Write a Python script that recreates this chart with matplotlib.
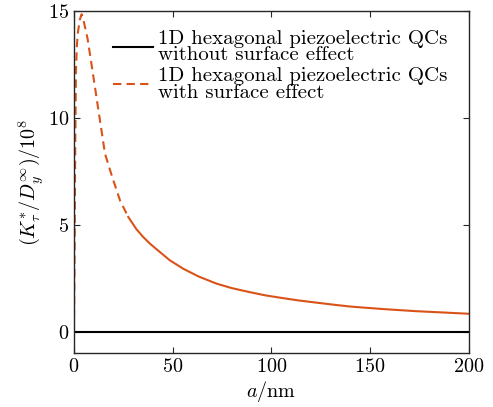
# coding = utf-8
import matplotlib
matplotlib.use('Agg')
from matplotlib import pyplot as plt

# values (K*/D / 1e8 vs a in nm)
a_surf = [0, 0.3, 0.6, 1.0, 1.5, 2.0, 3.0, 3.9, 5.0, 6.9, 9.4, 12.0, 15.7, 19.1,
          23.3, 27.5, 31.7, 35.0, 38.5, 43.5, 48.6, 55.3, 63.0, 72.2, 80.0, 89.1, 97.0,
          106.0, 114.0, 122.9, 131.0, 139.7, 148.0, 156.6, 165.0, 173.5, 187.0, 200.0]
k_surf = [0, 3.5, 8.0, 12.2, 13.4, 14.0, 14.6, 14.85, 14.5, 13.7, 12.2, 10.6, 8.33, 7.31,
          6.14, 5.36, 4.78, 4.43, 4.11, 3.72, 3.33, 2.94, 2.58, 2.24, 2.03, 1.84, 1.69,
          1.56, 1.45, 1.35, 1.26, 1.17, 1.11, 1.05, 1.00, 0.95, 0.89, 0.83]
a_bulk = [0, 50, 100, 150, 200]
k_bulk = [0, 0, 0, 0, 0]

xticks = [0, 50, 100, 150, 200]
yticks = [0, 5, 10, 15]

plt.rcParams['font.family'] = 'cmr10'
plt.rcParams['mathtext.fontset'] = 'cm'
plt.rcParams['axes.formatter.use_mathtext'] = True

orange = '#D95319'
plt.figure(figsize=(4.93, 4.07), dpi=100)
ax = plt.axes([0.150, 0.133, 0.801, 0.840])

ax.plot(a_bulk, k_bulk, color='black', lw=1.5,
        label='1D hexagonal piezoelectric QCs\nwithout surface effect')
# steep part shows dashes, flat part looks solid in the original
n = 16
ax.plot(a_surf[:n], k_surf[:n], color=orange, lw=1.5, ls=(0, (4, 2.5)),
        label='1D hexagonal piezoelectric QCs\nwith surface effect')
ax.plot(a_surf[n - 1:], k_surf[n - 1:], color=orange, lw=1.5)

ax.set_xlim(0, 200)
ax.set_ylim(-1, 15)
ax.set_xticks(xticks)
ax.set_yticks(yticks)
ax.tick_params(direction='in', top=True, right=True, labelsize=14.5, length=4,
               color='#262626')
for s in ax.spines.values():
    s.set_color('#262626')
    s.set_linewidth(1.0)

ax.set_xlabel(r'$a/\mathrm{nm}$', fontsize=14.5, labelpad=2)
ax.set_ylabel(r'$(K_\tau^{*}/D_y^{\infty})/10^8$', fontsize=14.5, labelpad=1)

leg = ax.legend(loc='upper left', frameon=False, fontsize=15, handlelength=1.9,
                handletextpad=0.25, labelspacing=0.15, borderaxespad=0, borderpad=0,
                bbox_to_anchor=(0.099, 0.945))
for t in leg.get_texts():
    t.set_linespacing(0.9)

plt.savefig('out.png')
